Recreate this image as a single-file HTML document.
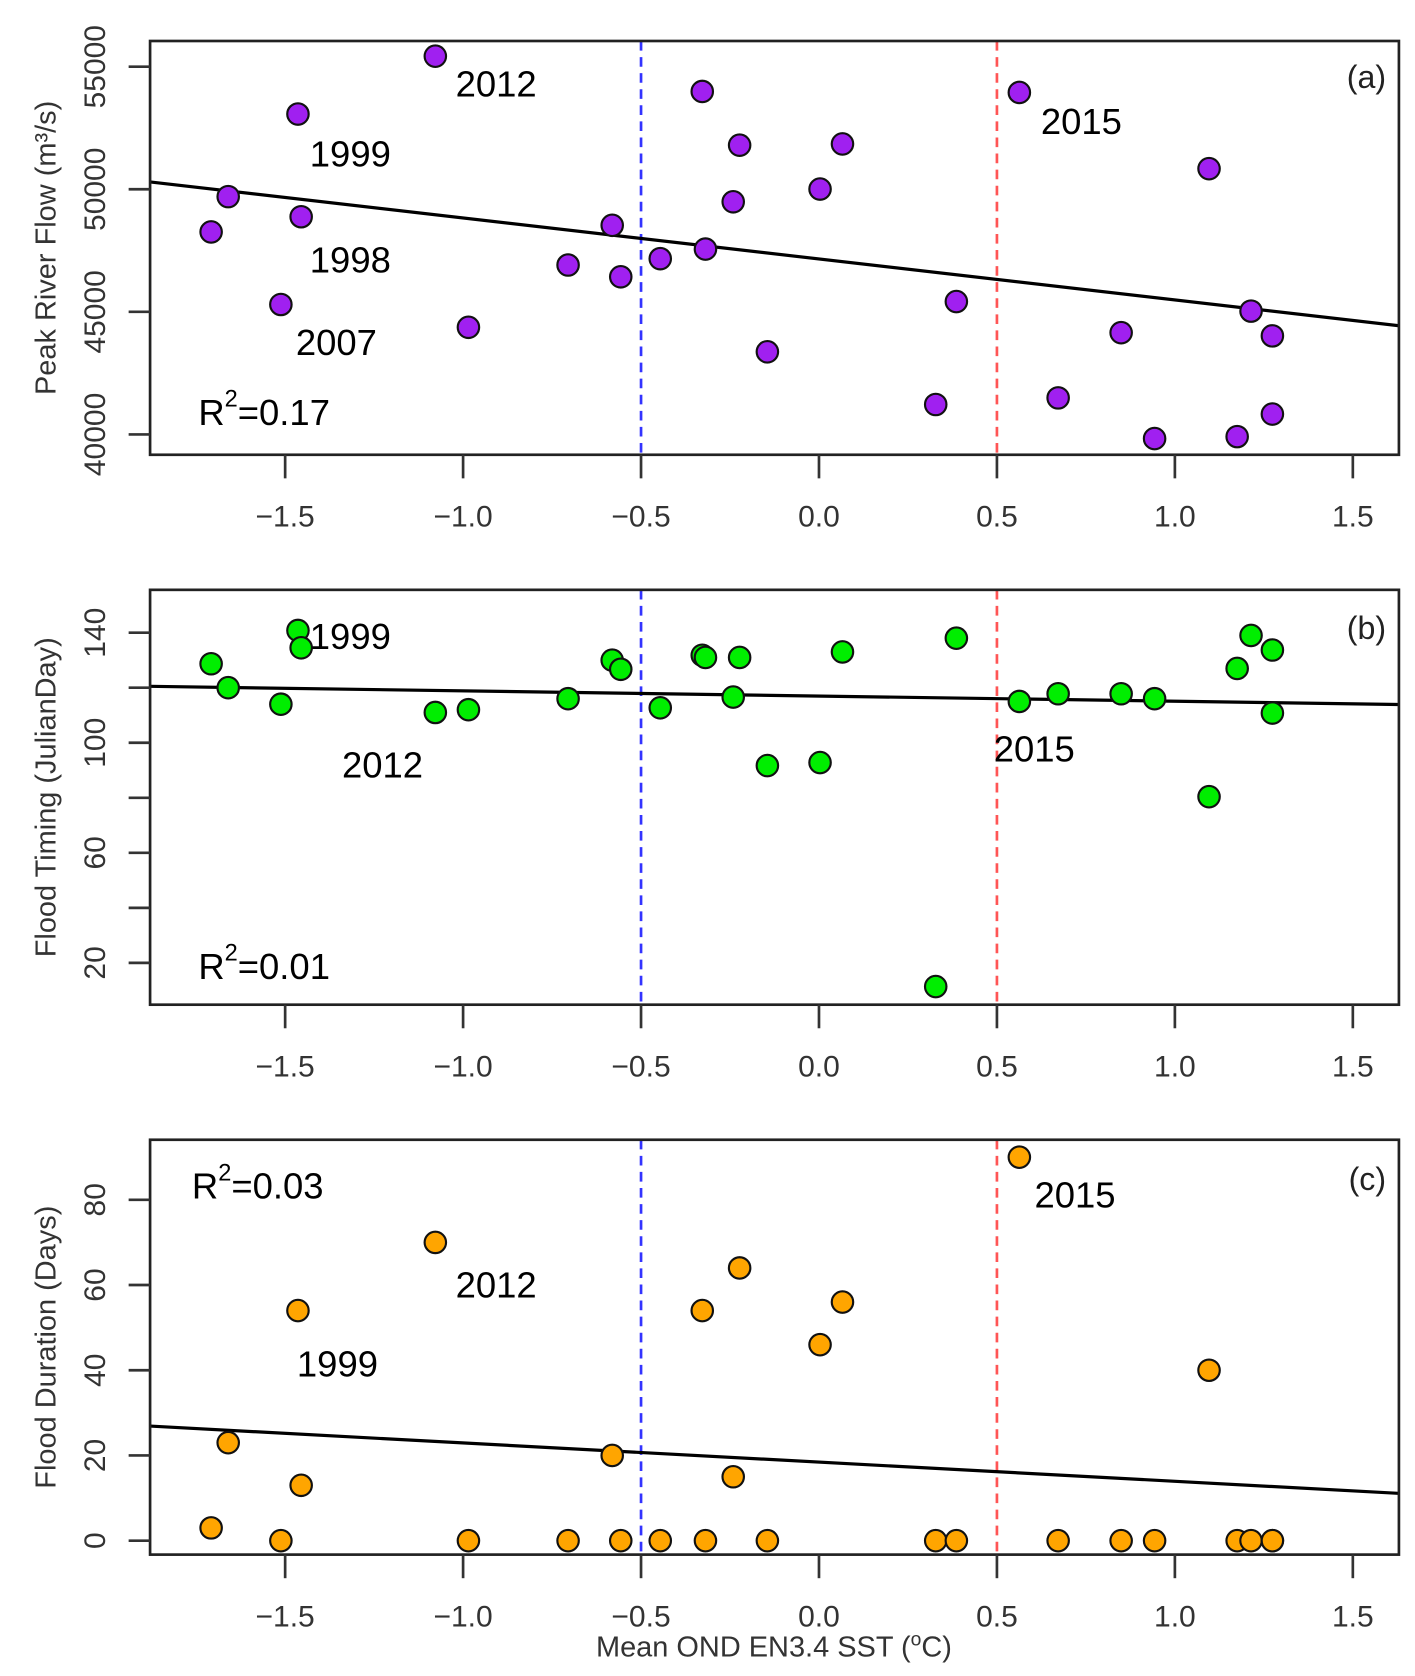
<!DOCTYPE html>
<html><head><meta charset="utf-8"><style>
html,body{margin:0;padding:0;background:#fff;}
svg{display:block;font-family:"Liberation Sans",sans-serif;}
</style></head><body>
<svg id="chart" width="1415" height="1676" viewBox="0 0 1320 1563" xmlns="http://www.w3.org/2000/svg"></svg>
<script>
const sst = [-1.708,-1.66,-1.512,-1.464,-1.455,-1.078,-0.985,-0.705,-0.581,-0.557,-0.446,-0.328,-0.319,-0.241,-0.223,-0.145,0.003,0.066,0.328,0.386,0.563,0.672,0.849,0.943,1.096,1.175,1.214,1.274,1.274];
const peakFlow = [48260,49700,45300,53070,48880,55430,44370,46910,48530,46430,47170,53990,47560,49490,51800,43370,50010,51850,41220,45420,53950,41490,44150,39830,50840,39910,45030,44020,40830];
const floodTiming = [128.7,120,114,140.8,134.5,111,112,116,130,126.7,112.7,131.8,131,116.6,131,91.7,92.8,133,11.4,138,115,117.8,117.8,116,80.4,127,139,110.8,133.7];
const floodDuration = [3,23,0,54,13,70,0,0,20,0,0,54,0,15,64,0,46,56,0,0,90,0,0,0,40,0,0,0,0];
const xTicks = [-1.5,-1.0,-0.5,0.0,0.5,1.0,1.5];
const xTickLabels = ["\u22121.5","\u22121.0","\u22120.5","0.0","0.5","1.0","1.5"];
const ticksA = [40000,45000,50000,55000];
const ticksB = [20,40,60,80,100,120,140];
const labelsB = [20,60,100,140];
const ticksC = [0,20,40,60,80];
const fitA = [47157,-1672];
const fitB = [116.97,-1.88];
const fitC = [18.44,-4.5];

const NS="http://www.w3.org/2000/svg";
const svg=document.getElementById('chart');
function el(tag,attrs,parent){const e=document.createElementNS(NS,tag);for(const k in attrs)e.setAttribute(k,attrs[k]);(parent||svg).appendChild(e);return e;}
const X0=140,X1=1305;
const xs=v=>764+332*v;
const xMin=(X0-764)/332,xMax=(X1-764)/332;

const panels=[
 {id:'a',top:38,bot:424,y:v=>405-(v-40000)*0.022867,data:peakFlow,fill:'#a020f0',ticks:ticksA,labels:ticksA,fit:fitA,
  title:'Peak River Flow (m\u00B3/s)',r2:'0.17',r2pos:[185,396],tag:'(a)',tagY:82,
  ann:[['2012',425,90],['1999',289,155],['1998',289,254],['2007',276,331],['2015',971,125]]},
 {id:'b',top:550,bot:937,y:v=>898-(v-20)*2.567,data:floodTiming,fill:'#00ee00',ticks:ticksB,labels:labelsB,fit:fitB,
  title:'Flood Timing (JulianDay)',r2:'0.01',r2pos:[185,913],tag:'(b)',tagY:596,
  ann:[['1999',289,605],['2012',319,725],['2015',927,710]]},
 {id:'c',top:1063,bot:1450,y:v=>1437-v*3.975,data:floodDuration,fill:'#ffa500',ticks:ticksC,labels:ticksC,fit:fitC,
  title:'Flood Duration (Days)',r2:'0.03',r2pos:[179,1118],tag:'(c)',tagY:1110,
  ann:[['2015',965,1126],['2012',425,1210],['1999',277,1284]]}
];

panels.forEach(p=>{
  const g=el('g',{});
  
  
  [[-0.5,'#3333ff'],[0.5,'#ff5555']].forEach(([v,c])=>{
    const l=el('line',{x1:xs(v),x2:xs(v),y1:p.top,y2:p.bot,stroke:c,'stroke-width':2.5,'stroke-dasharray':'9,6'},g);
    
    
  });
  const fl=el('line',{x1:X0,x2:X1,y1:p.y(p.fit[0]+p.fit[1]*xMin),y2:p.y(p.fit[0]+p.fit[1]*xMax),stroke:'#000','stroke-width':3},g);
  
  
  p.data.forEach((v,i)=>{
    const c=el('circle',{cx:xs(sst[i]),cy:p.y(v),r:10,fill:p.fill,stroke:'#111','stroke-width':2},g);
    
    
  });
  const b=el('rect',{x:X0,y:p.top,width:X1-X0,height:p.bot-p.top,fill:'none',stroke:'#222','stroke-width':2.5},g);
  
  
  xTicks.forEach((v,i)=>{
    const t=el('line',{x1:xs(v),x2:xs(v),y1:p.bot,y2:p.bot+22,stroke:'#333','stroke-width':2.5},g);
    
    
    const tx=el('text',{x:xs(v),y:p.bot+67,'text-anchor':'middle','font-size':28,fill:'#333'},g);
    tx.textContent=xTickLabels[i];
    
    
  });
  p.ticks.forEach(v=>{
    const t=el('line',{x1:X0-20,x2:X0,y1:p.y(v),y2:p.y(v),stroke:'#333','stroke-width':2.5},g);
    
    
  });
  p.labels.forEach(v=>{
    const yy=p.y(v);
    const tx=el('text',{x:0,y:0,transform:`translate(98,${yy}) rotate(-90)`,'text-anchor':'middle','font-size':28,fill:'#333'},g);
    tx.textContent=String(v);
    
    
  });
  const yt=el('text',{transform:`translate(52,${(p.top+p.bot)/2}) rotate(-90)`,'text-anchor':'middle','font-size':27,fill:'#333'},g);
  yt.textContent=p.title;
  
  
  p.ann.forEach(a=>{
    const t=el('text',{x:a[1],y:a[2],'font-size':34,fill:'#000'},g);
    t.textContent=a[0];
    
    
  });
  const r=el('text',{x:p.r2pos[0],y:p.r2pos[1],'font-size':34,fill:'#000'},g);
  r.innerHTML='R<tspan dy="-17" font-size="22">2</tspan><tspan dy="17">='+p.r2+'</tspan>';
  
  
  const tg=el('text',{x:1293,y:p.tagY,'text-anchor':'end','font-size':30,fill:'#222'},g);
  tg.textContent=p.tag;
  
  
});
const xt=el('text',{x:722,y:1545,'text-anchor':'middle','font-size':27,fill:'#333'});
xt.innerHTML='Mean OND EN3.4 SST (<tspan dy="-10" font-size="18">o</tspan><tspan dy="10">C)</tspan>';


</script>
</body></html>
